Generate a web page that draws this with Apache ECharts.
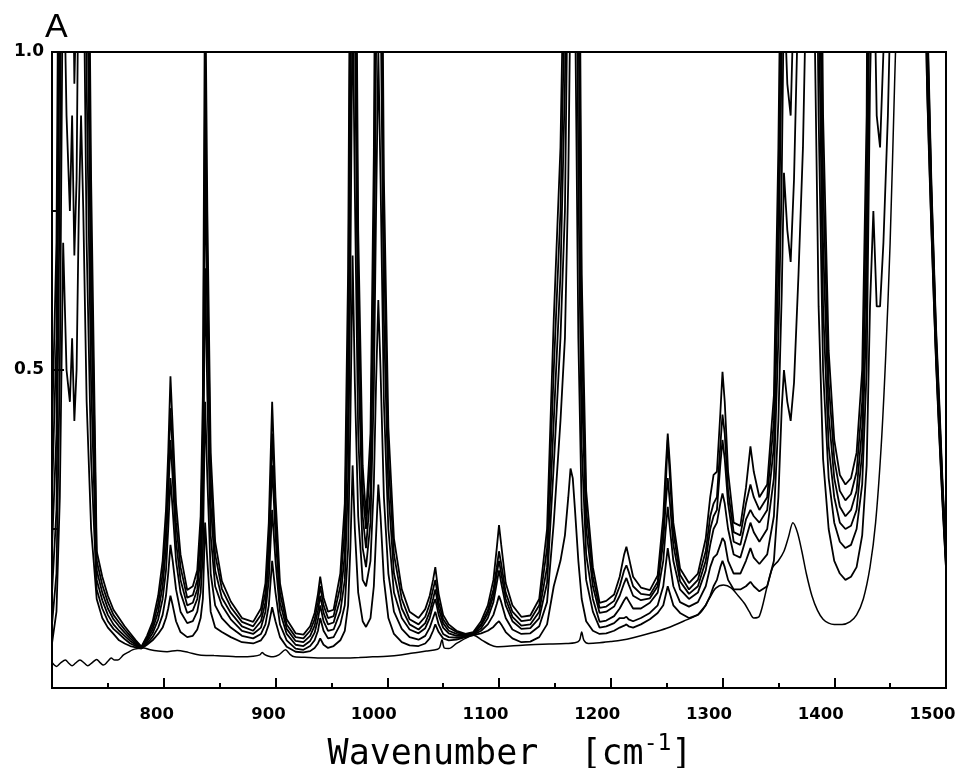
<!DOCTYPE html>
<html>
<head>
<meta charset="utf-8">
<script src="https://cdn.jsdelivr.net/npm/echarts@6/dist/echarts.min.js"></script>
<style>
  html, body { margin: 0; padding: 0; background: #fff; }
  #chart { width: 957px; height: 768px; }
</style>
</head>
<body>
<div id="chart"></div>
<script>
// shared wavenumber grid (cm-1) for the six sample spectra
const wavenumber = [
  700,704,707,710,713,716,718,720,722,724,
  726,728,731,735,740,745,750,755,760,765,
  770,775,780,785,790,795,799,802,804,806,
  808,811,815,821,826,830,833,835,837,839,
  842,846,852,860,870,880,887,891,894,897,
  900,904,910,918,925,931,935,938,940,943,
  947,952,958,962,965,967,969,971,974,978,
  981,985,988,990,992,994,997,1001,1006,1013,
  1020,1028,1034,1038,1041,1043,1046,1050,1055,1062,
  1070,1077,1084,1090,1095,1098,1100,1102,1106,1112,
  1120,1128,1136,1143,1149,1155,1159,1162,1164,1166,
  1168,1171,1174,1178,1184,1190,1196,1203,1208,1212,
  1214,1216,1220,1227,1235,1242,1247,1249,1251,1253,
  1256,1262,1270,1278,1285,1289,1292,1295,1298,1300,
  1302,1305,1310,1316,1321,1325,1328,1333,1340,1346,
  1350,1353,1355,1358,1361,1364,1368,1372,1376,1379,
  1382,1386,1390,1395,1400,1405,1410,1415,1420,1425,
  1429,1432,1435,1438,1441,1444,1448,1452,1460,1470,
  1478,1483,1487,1491,1494,1497,1500
];

const absorbance1 = [
  .07,.12,.30,.70,.50,.45,.55,.42,.50,.75,
  .90,.75,.45,.25,.14,.11,.095,.085,.075,.07,
  .066,.064,.062,.068,.075,.085,.095,.11,.125,.145,
  .13,.105,.088,.08,.082,.092,.11,.14,.26,.20,
  .12,.095,.088,.08,.072,.07,.075,.085,.10,.127,
  .105,.08,.065,.057,.056,.058,.063,.07,.078,.068,
  .063,.066,.075,.09,.13,.22,.35,.25,.15,.105,
  .096,.11,.16,.24,.32,.27,.17,.11,.085,.072,
  .067,.066,.07,.078,.09,.10,.088,.078,.075,.076,
  .08,.083,.086,.09,.096,.102,.105,.10,.088,.078,
  .072,.073,.08,.10,.16,.20,.24,.30,.345,.33,
  .28,.20,.14,.105,.09,.085,.086,.09,.095,.098,
  .10,.097,.095,.10,.108,.118,.13,.145,.16,.148,
  .13,.118,.11,.115,.13,.145,.16,.17,.19,.20,
  .19,.17,.155,.155,.16,.167,.16,.152,.16,.20,
  .30,.44,.50,.45,.42,.48,.65,.85,1.2,1.5,
  1.1,.60,.36,.25,.20,.18,.17,.175,.19,.24,
  .35,.60,.75,.60,.60,.70,.90,1.2,2,2,
  1.5,.95,.72,.52,.40,.29,.19
];

const absorbance2 = [
  .10,.18,.50,1.2,.90,.75,.90,.68,.80,1.2,
  1.4,1.2,.70,.36,.155,.125,.105,.093,.085,.077,
  .07,.066,.063,.07,.08,.095,.115,.145,.18,.225,
  .20,.155,.12,.102,.105,.12,.15,.21,.45,.33,
  .18,.13,.11,.095,.082,.078,.085,.10,.13,.20,
  .15,.10,.075,.062,.06,.066,.075,.09,.11,.09,
  .078,.08,.10,.13,.22,.42,.68,.48,.27,.17,
  .16,.20,.32,.48,.61,.50,.30,.18,.12,.093,
  .08,.076,.082,.095,.11,.12,.10,.085,.08,.079,
  .081,.084,.09,.10,.115,.132,.145,.135,.11,.092,
  .085,.086,.097,.135,.26,.42,.55,.80,1.1,1.2,
  1.1,.55,.28,.17,.12,.095,.097,.102,.11,.11,
  .112,.108,.105,.11,.118,.13,.16,.19,.22,.195,
  .16,.135,.128,.135,.16,.19,.205,.21,.225,.236,
  .23,.20,.18,.18,.20,.22,.205,.195,.21,.27,
  .42,.62,.81,.72,.67,.80,1.1,1.4,1.8,2,
  1.6,.90,.50,.33,.26,.23,.22,.225,.25,.32,
  .50,.95,1.2,.90,.85,1.0,1.3,1.6,2,2,
  1.6,1.0,.74,.53,.41,.30,.195
];

const absorbance3 = [
  .15,.28,.80,1.6,1.3,1.1,1.3,.95,1.1,1.6,
  2,1.6,.95,.48,.17,.138,.115,.10,.09,.082,
  .074,.068,.063,.073,.086,.108,.14,.185,.25,.33,
  .28,.20,.15,.118,.122,.14,.18,.28,.66,.46,
  .24,.16,.13,.108,.09,.085,.095,.12,.17,.28,
  .20,.12,.085,.068,.066,.074,.087,.108,.13,.105,
  .09,.092,.12,.17,.33,.65,1.1,.78,.40,.22,
  .19,.26,.47,.75,1.0,.80,.45,.25,.15,.11,
  .092,.086,.094,.11,.13,.14,.115,.095,.086,.082,
  .082,.085,.094,.11,.135,.165,.185,.165,.13,.105,
  .093,.094,.11,.165,.35,.55,.75,1.2,1.6,1.8,
  1.6,.80,.38,.21,.14,.104,.106,.113,.125,.138,
  .143,.137,.125,.125,.134,.15,.20,.245,.285,.25,
  .20,.155,.14,.15,.185,.225,.25,.26,.29,.306,
  .29,.25,.21,.205,.235,.26,.245,.23,.25,.33,
  .55,.80,1.1,.95,.90,1.1,1.5,1.8,2,2,
  2,1.1,.60,.38,.30,.26,.25,.255,.28,.37,
  .60,1.2,1.5,1.1,1.05,1.2,1.6,2,2,2,
  1.7,1.02,.76,.54,.42,.30,.20
];

const absorbance4 = [
  .22,.40,1.1,2,1.6,1.4,1.6,1.2,1.4,2,
  2,2,1.2,.60,.185,.15,.125,.108,.097,.087,
  .078,.07,.064,.076,.092,.12,.16,.22,.30,.39,
  .33,.23,.17,.13,.134,.155,.21,.34,.84,.57,
  .29,.185,.142,.118,.097,.09,.105,.135,.20,.35,
  .24,.135,.093,.074,.072,.082,.098,.122,.145,.118,
  .10,.103,.14,.21,.44,.90,1.5,1.05,.52,.27,
  .22,.31,.60,1.0,1.4,1.1,.58,.31,.18,.125,
  .10,.092,.102,.12,.14,.155,.125,.102,.09,.085,
  .083,.086,.098,.117,.145,.18,.20,.18,.14,.112,
  .098,.10,.12,.19,.42,.65,.95,1.5,2,2,
  2,1.1,.48,.25,.16,.118,.12,.128,.145,.165,
  .173,.163,.145,.138,.141,.16,.23,.285,.33,.29,
  .225,.168,.148,.16,.20,.25,.27,.28,.35,.39,
  .36,.29,.23,.225,.265,.28,.27,.26,.28,.38,
  .65,1.0,1.4,1.2,1.1,1.4,1.8,2,2,2,
  2,1.3,.70,.43,.33,.285,.27,.28,.31,.41,
  .70,1.5,1.8,1.3,1.25,1.4,1.9,2,2,2,
  1.8,1.04,.77,.55,.43,.31,.205
];

const absorbance5 = [
  .30,.55,1.3,2,1.8,1.6,1.9,1.4,1.6,2,
  2,2,1.4,.70,.20,.162,.135,.115,.103,.092,
  .082,.073,.064,.079,.098,.132,.18,.25,.34,.44,
  .37,.26,.19,.142,.146,.17,.24,.40,.95,.66,
  .33,.21,.156,.127,.104,.097,.115,.15,.23,.40,
  .27,.15,.10,.08,.078,.09,.108,.135,.16,.13,
  .11,.113,.16,.25,.55,1.1,1.8,1.3,.62,.31,
  .25,.36,.72,1.2,1.7,1.3,.70,.36,.21,.14,
  .108,.10,.112,.132,.155,.17,.135,.108,.095,.088,
  .084,.087,.10,.122,.155,.19,.215,.195,.15,.12,
  .105,.107,.13,.22,.50,.75,1.1,1.8,2,2,
  2,1.3,.56,.28,.175,.126,.128,.137,.16,.185,
  .193,.183,.16,.148,.146,.167,.25,.31,.39,.33,
  .245,.178,.155,.17,.215,.27,.29,.30,.38,.43,
  .40,.31,.245,.24,.29,.32,.30,.28,.30,.42,
  .75,1.15,1.7,1.4,1.3,1.6,2,2,2,2,
  2,1.5,.80,.48,.36,.31,.295,.305,.34,.45,
  .80,1.8,2,1.5,1.4,1.6,2,2,2,2,
  1.9,1.06,.78,.56,.44,.31,.21
];

const absorbance6 = [
  .40,.70,1.5,2,2,1.8,2,1.6,1.8,2,
  2,2,1.6,.80,.215,.175,.145,.123,.11,.097,
  .086,.075,.065,.082,.104,.145,.20,.28,.37,.49,
  .41,.29,.21,.154,.16,.185,.27,.46,1.15,.75,
  .37,.23,.168,.136,.11,.104,.125,.165,.26,.45,
  .30,.165,.108,.086,.084,.097,.118,.148,.175,.142,
  .12,.123,.18,.29,.66,1.3,2,1.5,.72,.35,
  .27,.40,.84,1.4,2,1.5,.80,.41,.235,.155,
  .12,.11,.124,.145,.17,.19,.148,.115,.10,.09,
  .085,.088,.105,.13,.17,.22,.256,.225,.165,.13,
  .112,.114,.14,.25,.58,.85,1.25,2,2,2,
  2,1.5,.65,.31,.19,.134,.137,.147,.175,.21,
  .222,.207,.175,.158,.154,.177,.27,.34,.40,.35,
  .26,.188,.165,.18,.235,.30,.335,.34,.43,.497,
  .45,.34,.26,.255,.315,.38,.34,.30,.32,.46,
  .85,1.3,2,1.6,1.5,1.8,2,2,2,2,
  2,1.7,.90,.53,.39,.335,.32,.33,.37,.50,
  .90,2,2,1.7,1.6,1.8,2,2,2,2,
  2,1.08,.79,.57,.45,.32,.215
];

// reference (solvent) trace, own grid
const solventWavenumber = [
  700,704,708,712,715,718,721,725,729,732,
  736,740,743,746,750,753,756,759,764,768,
  772,777,782,788,795,803,812,822,832,845,
  858,870,880,886,888,890,894,898,903,909,
  913,917,930,945,958,975,987,1000,1012,1023,
  1035,1045,1047,1049,1051,1055,1062,1070,1077,1085,
  1092,1098,1110,1128,1145,1160,1168,1172,1174,1176,
  1180,1190,1200,1209,1220,1235,1250,1265,1280,1288,
  1294,1301,1308,1314,1320,1324,1328,1333,1340,1345,
  1350,1355,1359,1363,1367,1371,1375,1380,1385,1390,
  1395,1400,1407,1414,1420,1426,1432,1437,1442,1446,
  1450,1454,1458,1462,1470,1478,1483,1487,1491,1494,
  1497,1500
];
const solventAbsorbance = [
  .04,.034,.04,.044,.039,.035,.039,.044,.039,.035,
  .04,.045,.04,.036,.042,.047,.044,.044,.052,.056,
  .06,.062,.063,.06,.058,.057,.059,.056,.052,.051,
  .05,.049,.05,.052,.056,.053,.05,.049,.052,.06,
  .053,.049,.048,.047,.047,.048,.049,.05,.052,.055,
  .058,.061,.064,.076,.063,.062,.07,.078,.083,.075,
  .068,.065,.066,.068,.069,.07,.071,.075,.088,.075,
  .07,.071,.073,.075,.079,.086,.094,.105,.118,.14,
  .157,.162,.157,.145,.132,.12,.11,.113,.16,.19,
  .20,.215,.237,.26,.245,.215,.18,.145,.122,.108,
  .102,.10,.10,.104,.115,.14,.19,.26,.38,.52,
  .70,.95,1.2,1.5,2,1.4,.94,.71,.51,.39,
  .28,.185
];

const yLabelValues = [0.5, 1.0];

const chart = echarts.init(document.getElementById('chart'));

const ink = '#000';
const spectra = [absorbance1, absorbance2, absorbance3, absorbance4, absorbance5, absorbance6];

const series = spectra.map((vals, i) => ({
  name: 'spectrum ' + (i + 1),
  type: 'line',
  data: wavenumber.map((w, k) => [w, vals[k]]),
  symbol: 'none',
  clip: true,
  lineStyle: { color: ink, width: 1.8 },
}));

series.unshift({
  name: 'solvent',
  type: 'line',
  data: solventWavenumber.map((w, k) => [w, solventAbsorbance[k]]),
  symbol: 'none',
  clip: true,
  smooth: 0.3,
  lineStyle: { color: ink, width: 1.5 },
});

const option = {
  animation: false,
  backgroundColor: '#fff',
  title: {
    text: 'A',
    left: 40,
    top: 6,
    textStyle: { fontFamily: 'Liberation Sans', fontSize: 34, fontWeight: 'normal', color: ink },
  },
  grid: {
    left: 52,
    right: 11,
    top: 52,
    bottom: 80,
    outerBoundsMode: 'none',
    containLabel: false,
    show: true,
    borderColor: ink,
    borderWidth: 2,
  },
  xAxis: {
    type: 'value',
    min: 700,
    max: 1500,
    interval: 100,
    name: 'Wavenumber  [cm{sup|-1}]',
    nameLocation: 'middle',
    nameGap: 45,
    nameTextStyle: {
      fontFamily: 'DejaVu Sans Mono',
      fontSize: 35,
      color: ink,
      padding: [0, 0, 0, 22],
      rich: {
        sup: { fontFamily: 'DejaVu Sans Mono', fontSize: 23, color: ink, padding: [0, 0, 20, 0] },
      },
    },
    axisLine: { lineStyle: { color: ink, width: 2 } },
    axisTick: { inside: true, length: 10, lineStyle: { color: ink, width: 2 } },
    minorTick: { show: true, splitNumber: 2, length: 5, lineStyle: { color: ink, width: 2 } },
    splitLine: { show: false },
    axisLabel: {
      color: ink,
      margin: 18,
      formatter: (v) => (v === 700 ? '' : (v < 1000 ? '{s|' + v + '}' : '{l|' + v + '}')),
      rich: {
        s: { fontFamily: 'DejaVu Sans', fontWeight: 'bold', fontSize: 16.5, color: ink, padding: [0, 14, 0, 0] },
        l: { fontFamily: 'DejaVu Sans', fontWeight: 'bold', fontSize: 16.5, color: ink, padding: [0, 27, 0, 0] },
      },
    },
  },
  yAxis: {
    type: 'value',
    min: 0,
    max: 1,
    interval: 0.5,
    axisLine: { lineStyle: { color: ink, width: 2 } },
    axisTick: { inside: true, length: 12, lineStyle: { color: ink, width: 2 } },
    minorTick: { show: true, splitNumber: 2, length: 5, lineStyle: { color: ink, width: 2 } },
    splitLine: { show: false },
    axisLabel: {
      color: ink,
      fontFamily: 'DejaVu Sans',
      fontWeight: 'bold',
      fontSize: 17,
      margin: 8,
      formatter: (v) => (yLabelValues.includes(v) ? v.toFixed(1) : ''),
    },
  },
  series: series,
};

chart.setOption(option);
</script>
</body>
</html>
